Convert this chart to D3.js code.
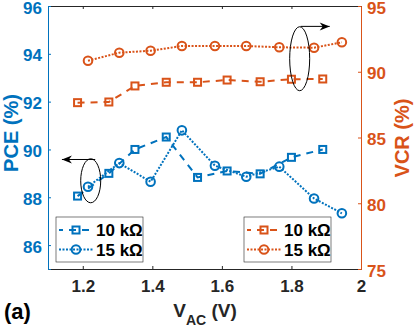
<!DOCTYPE html>
<meta charset="utf-8">
<style>
  body { margin: 0; background: #fff; }
  svg text { font-family: "Liberation Sans", Arial, sans-serif; font-weight: bold; }
</style>
<body>
<div id="chart"></div>
<script src="https://d3js.org/d3.v7.min.js"></script>
<script>
// values
var vac10 = [1.185, 1.275, 1.35, 1.44, 1.53, 1.615, 1.71, 1.80, 1.89];
var vac15 = [1.215, 1.305, 1.395, 1.485, 1.58, 1.67, 1.765, 1.865, 1.945];
var pce10 = [88.05, 89.0, 90.0, 90.52, 88.83, 89.1, 88.98, 89.67, 90.0];
var pce15 = [88.44, 89.43, 88.65, 90.8, 89.32, 88.86, 89.28, 87.95, 87.33];
var vcr10 = [87.65, 87.7, 88.92, 89.2, 89.2, 89.37, 89.24, 89.43, 89.45];
var vcr15 = [90.84, 91.45, 91.6, 91.96, 91.96, 91.96, 91.86, 91.83, 92.24];
var xTicks = [1.2, 1.4, 1.6, 1.8, 2];
var leftTicks = [86, 88, 90, 92, 94, 96];
var rightTicks = [75, 80, 85, 90, 95];
var seriesNames = ['10 k\u03A9', '15 k\u03A9'];

var blue = '#0072BD', orange = '#D95319', gray = '#262626';
var width = 415, height = 329;
var m = {left: 48, right: 54, top: 6, bottom: 60};
var iw = width - m.left - m.right, ih = height - m.top - m.bottom;

var x = d3.scaleLinear().domain([1.1, 2]).range([0, iw]);
var yL = d3.scaleLinear().domain([85, 96]).range([ih, 0]);
var yR = d3.scaleLinear().domain([75, 95]).range([ih, 0]);

var svg = d3.select('#chart').append('svg')
    .attr('width', width)
    .attr('height', height);
var g = svg.append('g').attr('transform', 'translate(' + m.left + ',' + m.top + ')');

// axes
var tl = 3;
g.append('g').attr('transform', 'translate(0,' + ih + ')')
    .call(d3.axisBottom(x).tickValues(xTicks).tickSize(-tl).tickPadding(11).tickFormat(d3.format('')))
    .call(function (a) {
      a.select('.domain').attr('stroke', gray);
      a.selectAll('line').attr('stroke', gray);
      a.selectAll('text').attr('fill', gray).style('font-size', '17px');
    });
g.append('g')
    .call(d3.axisTop(x).tickValues(xTicks).tickSize(-tl).tickFormat(''))
    .call(function (a) {
      a.select('.domain').attr('stroke', gray);
      a.selectAll('line').attr('stroke', gray);
    });
g.append('g')
    .call(d3.axisLeft(yL).tickValues(leftTicks).tickSize(-tl).tickPadding(6))
    .call(function (a) {
      a.select('.domain').attr('stroke', blue);
      a.selectAll('line').attr('stroke', blue);
      a.selectAll('text').attr('fill', blue).attr('dy', '0.42em').style('font-size', '17px');
    });
g.append('g').attr('transform', 'translate(' + iw + ',0)')
    .call(d3.axisRight(yR).tickValues(rightTicks).tickSize(-tl).tickPadding(6))
    .call(function (a) {
      a.select('.domain').attr('stroke', orange);
      a.selectAll('line').attr('stroke', orange);
      a.selectAll('text').attr('fill', orange).attr('dy', '0.42em').style('font-size', '17px');
    });

// axis labels
svg.append('text')
    .attr('transform', 'translate(18,133) rotate(-90)')
    .attr('text-anchor', 'middle').attr('fill', blue).style('font-size', '20px')
    .text('PCE (%)');
svg.append('text')
    .attr('transform', 'translate(409,138) rotate(-90)')
    .attr('text-anchor', 'middle').attr('fill', orange).style('font-size', '20px')
    .text('VCR (%)');
var xl = svg.append('text')
    .attr('x', 205).attr('y', 317)
    .attr('text-anchor', 'middle').attr('fill', gray).style('font-size', '19px');
xl.append('tspan').text('V');
xl.append('tspan').attr('dy', 8).style('font-size', '14px').text('AC');
xl.append('tspan').attr('dy', -8).text(' (V)');
svg.append('text').attr('x', 4).attr('y', 319).attr('fill', '#000')
    .style('font-size', '22px').text('(a)');

// series
function drawSeries(xs, ys, yScale, color, dash, shape) {
  var pts = xs.map(function (d, i) { return [x(d), yScale(ys[i])]; });
  g.append('path')
      .attr('d', d3.line()(pts))
      .attr('fill', 'none')
      .attr('stroke', color)
      .attr('stroke-width', 2)
      .attr('stroke-dasharray', dash);
  drawMarkers(g, pts, color, shape);
}
function drawMarkers(sel, pts, color, shape) {
  if (shape === 'square') {
    sel.selectAll(null).data(pts).enter().append('rect')
        .attr('x', function (d) { return d[0] - 3.5; })
        .attr('y', function (d) { return d[1] - 3.5; })
        .attr('width', 7).attr('height', 7)
        .attr('fill', 'none').attr('stroke', color).attr('stroke-width', 2);
  } else {
    sel.selectAll(null).data(pts).enter().append('circle')
        .attr('cx', function (d) { return d[0]; })
        .attr('cy', function (d) { return d[1]; })
        .attr('r', 4.3)
        .attr('fill', 'none').attr('stroke', color).attr('stroke-width', 2);
  }
}
drawSeries(vac10, vcr10, yR, orange, '7,6', 'square');
drawSeries(vac15, vcr15, yR, orange, '2,1.5', 'circle');
drawSeries(vac10, pce10, yL, blue, '7,6', 'square');
drawSeries(vac15, pce15, yL, blue, '2,1.5', 'circle');

// annotations: ellipses with arrows
function arrow(x1, x2, yy) {
  var dir = x2 > x1 ? 1 : -1;
  g.append('line').attr('x1', x1).attr('x2', x2).attr('y1', yy).attr('y2', yy)
      .attr('stroke', '#000').attr('stroke-width', 1);
  g.append('path')
      .attr('d', 'M' + x2 + ',' + yy + 'L' + (x2 - dir * 10) + ',' + (yy - 4) +
        'L' + (x2 - dir * 7) + ',' + yy + 'L' + (x2 - dir * 10) + ',' + (yy + 4) + 'Z')
      .attr('fill', '#000');
}
g.append('ellipse').attr('cx', x(1.2228)).attr('cy', yL(88.69)).attr('rx', 10).attr('ry', 22)
    .attr('fill', 'none').attr('stroke', '#000').attr('stroke-width', 1);
arrow(x(1.2358), x(1.14), yL(89.58));
g.append('ellipse').attr('cx', x(1.8237)).attr('cy', yR(90.99)).attr('rx', 10).attr('ry', 32)
    .attr('fill', 'none').attr('stroke', '#000').attr('stroke-width', 1);
arrow(x(1.8265), x(1.91), yR(93.45));

// legends
function legend(x0, y0, color) {
  var lg = svg.append('g').attr('transform', 'translate(' + x0 + ',' + y0 + ')');
  lg.append('rect').attr('width', 87).attr('height', 45)
      .attr('fill', '#fff').attr('stroke', gray).attr('stroke-width', 0.6);
  var dashes = ['7,6', '2,1.5'];
  var shapes = ['square', 'circle'];
  seriesNames.forEach(function (name, i) {
    var yy = 13 + i * 19.5;
    lg.append('line').attr('x1', 3).attr('x2', 37).attr('y1', yy).attr('y2', yy)
        .attr('stroke', color).attr('stroke-width', 2).attr('stroke-dasharray', dashes[i])
        .attr('stroke-dashoffset', i === 0 ? 3 : 0);
    drawMarkers(lg, [[20, yy]], color, shapes[i]);
    lg.append('text').attr('x', 40).attr('y', yy + 6).attr('fill', '#000')
        .style('font-size', '17px').text(name);
  });
}
legend(56, 217, blue);
legend(244, 217, orange);
</script>
</body>
